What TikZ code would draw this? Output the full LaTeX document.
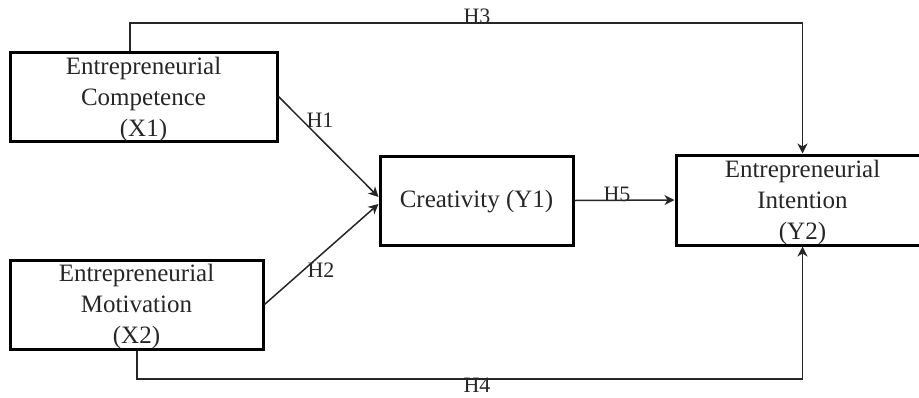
\documentclass[tikz,border=0pt]{standalone}
\usepackage{fontspec}
\setmainfont{Liberation Serif}
\usetikzlibrary{arrows.meta,calc}
\begin{document}
\begin{tikzpicture}[x=1pt,y=-1pt,
  box/.style={draw=black, line width=3pt, inner sep=0pt},
  txt/.style={inner sep=0pt, align=center, text=black!85, font=\fontsize{25}{31}\selectfont},
  lbl/.style={inner sep=0pt, text=black!85, font=\fontsize{22}{26}\selectfont},
  conn/.style={draw=black!85, line width=1.5pt, -{Stealth[length=10pt,width=10pt,inset=3pt]}},
  line/.style={draw=black!85, line width=1.5pt}]
\useasboundingbox (0,0) rectangle (919,397);
% boxes
\node[box, minimum width=267pt, minimum height=89pt] (x1) at (143.5,96.5) {};
\node[box, minimum width=253pt, minimum height=89pt] (x2) at (136.5,304.5) {};
\node[box, minimum width=193pt, minimum height=89pt] (y1) at (476.5,200.5) {};
\node[box, minimum width=253pt, minimum height=90pt] (y2) at (802.5,200) {};
% texts (base anchor = baseline of the last line)
\node[txt, anchor=base] (x1t) at (143.5,136) {Entrepreneurial\\Competence\\(X1)};
\node[txt, anchor=base] (x2t) at (136.5,343) {Entrepreneurial\\Motivation\\(X2)};
\node[txt, anchor=base] (y1t) at (476.5,207) {Creativity (Y1)};
\node[txt, anchor=base] (y2t) at (802.5,239) {Entrepreneurial\\Intention\\(Y2)};
% connectors
\coordinate (h3) at (130,23);
\coordinate (h4) at (137,379);
\draw[conn] (x1.north -| h3) -- (h3) -| (y2.north);
\draw[conn] (x2.south -| h4) -- (h4) -| (y2.south);
\draw[conn] (x1.east) -- ([yshift=3.5pt]y1.west);
\draw[conn] (x2.east) -- ([yshift=-3.5pt]y1.west);
\draw[conn] (y1.east) -- (y2.west);
% labels
\node[lbl] (l1) at (320,120) {H1};
\node[lbl] (l2) at (321,270) {H2};
\node[lbl] (l5) at (617,194) {H5};
\node[lbl, anchor=base] (l3) at (477,23) {H3};
\node[lbl, anchor=north] (l4) at (477,378) {H4};
\end{tikzpicture}
\end{document}
